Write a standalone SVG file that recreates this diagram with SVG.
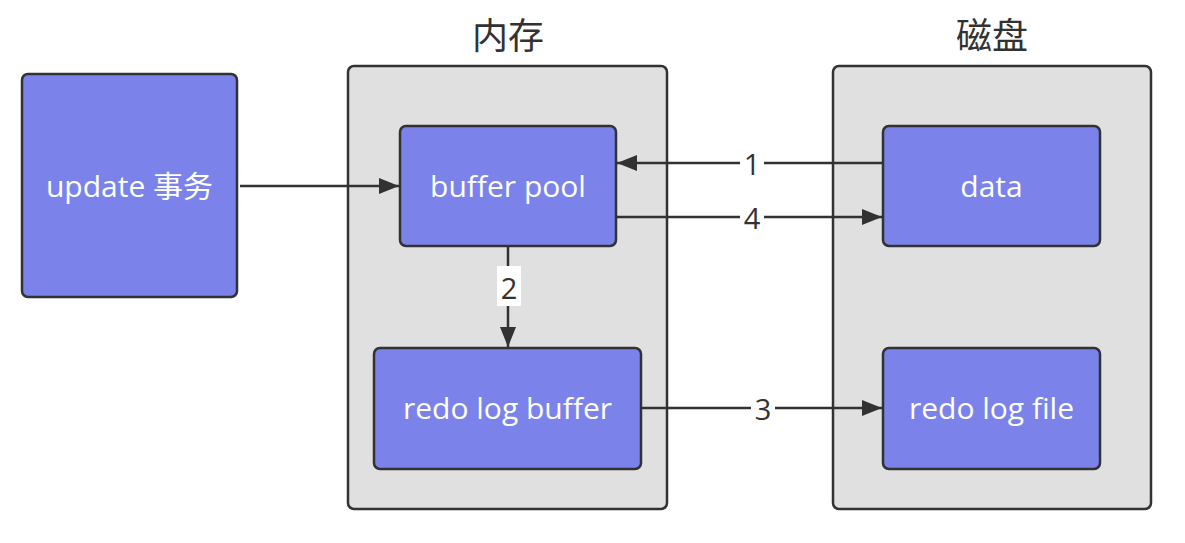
<svg xmlns="http://www.w3.org/2000/svg" width="1185" height="543" viewBox="0 0 1185 543">
<style>
.box{fill:#7b83eb;stroke:#323232;stroke-width:2.5}
.cont{fill:#e0e0e0;stroke:#323232;stroke-width:2.5}
.lbl{font-family:"Open Sans","Noto Sans CJK SC",sans-serif;font-size:30px;fill:#ffffff;text-anchor:middle;dominant-baseline:central}
.title{font-family:"Noto Sans CJK SC",sans-serif;font-size:36px;fill:#323232;text-anchor:middle;dominant-baseline:central}
.edge{stroke:#323232;stroke-width:2.5;fill:none;marker-end:url(#ah)}
.num{font-family:"Open Sans","Noto Sans CJK SC",sans-serif;font-size:29px;fill:#323232;text-anchor:middle;dominant-baseline:central}
</style>
<defs>
<marker id="ah" markerWidth="20" markerHeight="16" refX="20" refY="8" orient="auto" markerUnits="userSpaceOnUse" viewBox="0 0 20 16">
<path d="M0,0 L20,8 L0,16 Z" fill="#323232"/>
</marker>
</defs>
<rect width="1185" height="543" fill="#ffffff"/>
<g id="mem">
<rect class="cont" x="348" y="66" width="319" height="443" rx="6"/>
<text class="title" x="508" y="33">内存</text>
</g>
<g id="disk">
<rect class="cont" x="833" y="66" width="318" height="443" rx="6"/>
<text class="title" x="992" y="33">磁盘</text>
</g>
<g id="update">
<rect class="box" x="22" y="74" width="215" height="223" rx="6"/>
<text class="lbl" x="129.5" y="185">update 事务</text>
</g>
<g id="bufferpool">
<rect class="box" x="400" y="126" width="216" height="120" rx="6"/>
<text class="lbl" x="508" y="185">buffer pool</text>
</g>
<g id="redologbuffer">
<rect class="box" x="374" y="348" width="267" height="121" rx="6"/>
<text class="lbl" x="507.5" y="407">redo log buffer</text>
</g>
<g id="data">
<rect class="box" x="883" y="126" width="217" height="120" rx="6"/>
<text class="lbl" x="991.5" y="185">data</text>
</g>
<g id="redologfile">
<rect class="box" x="883" y="348" width="217" height="121" rx="6"/>
<text class="lbl" x="991.5" y="407">redo log file</text>
</g>
<g id="connectors">
<line class="edge" x1="240" y1="186" x2="399" y2="186"/>
<line class="edge" x1="882" y1="163" x2="617" y2="163"/>
<rect x="740" y="146" width="24" height="34" fill="#ffffff"/>
<text class="num" x="752" y="163">1</text>
<line class="edge" x1="617" y1="217" x2="882" y2="217"/>
<rect x="740" y="200" width="24" height="34" fill="#ffffff"/>
<text class="num" x="752" y="217">4</text>
<line class="edge" x1="508" y1="247" x2="508" y2="347"/>
<rect x="497" y="266" width="24" height="40" fill="#ffffff"/>
<text class="num" x="509" y="287">2</text>
<line class="edge" x1="642" y1="408" x2="882" y2="408"/>
<rect x="751" y="391" width="24" height="34" fill="#ffffff"/>
<text class="num" x="763" y="408">3</text>
</g>
</svg>
